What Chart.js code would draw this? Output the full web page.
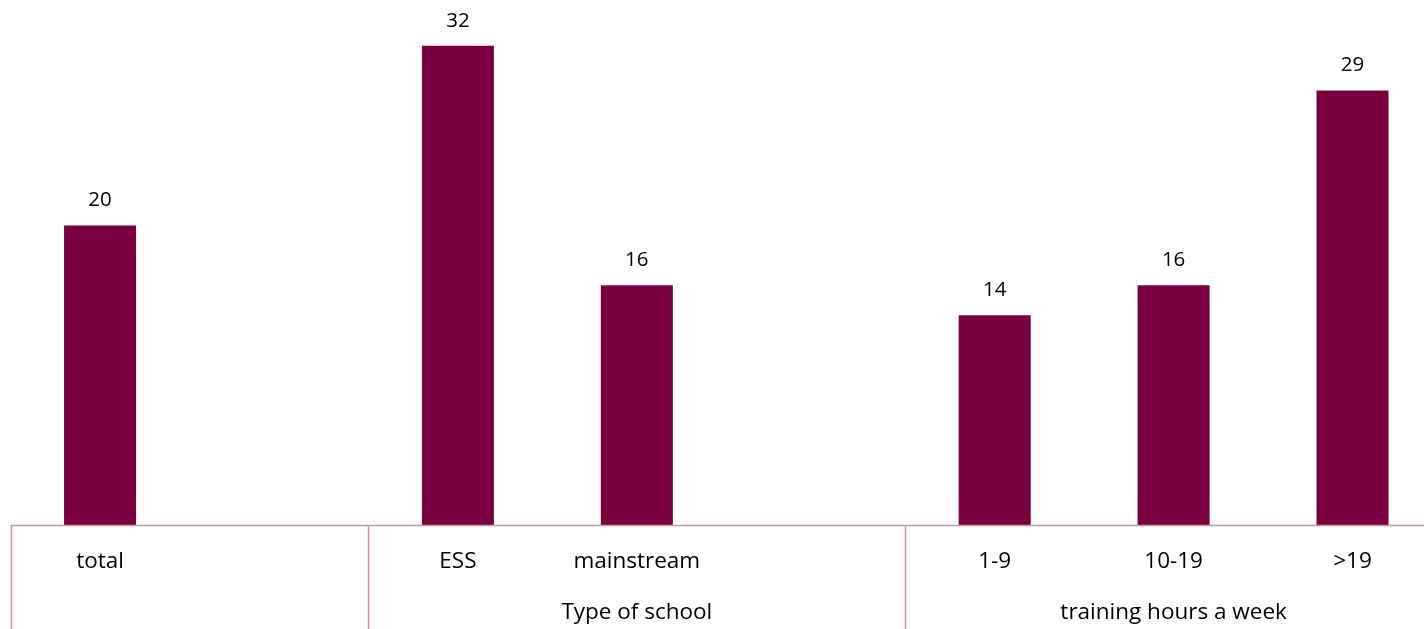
<!DOCTYPE html>
<html>
<head>
<meta charset="utf-8">
<script src="https://cdn.jsdelivr.net/npm/chart.js@4/dist/chart.umd.min.js"></script>
<style>
  html, body { margin: 0; padding: 0; overflow: hidden; background: #fff; }
  #wrap { width: 1442px; height: 629px; }
</style>
</head>
<body>
<div id="wrap"><canvas id="barChart"></canvas></div>
<script>
// Data
const categories = ['total', '', 'ESS', 'mainstream', '', '1-9', '10-19', '>19'];
const values = [20, null, 32, 16, null, 14, 16, 29];
const groups = [
  { label: '', from: 0, to: 1 },
  { label: 'Type of school', from: 2, to: 4 },
  { label: 'training hours a week', from: 5, to: 7 }
];

const barColor = '#7b003f';
const lineColor = '#c297a6';
const fontFamily = "'Open Sans', 'Noto Sans', sans-serif";

// Value labels + category table under the axis
const tablePlugin = {
  id: 'tablePlugin',
  afterDatasetsDraw(chart) {
    const ctx = chart.ctx;
    const area = chart.chartArea;
    const x = chart.scales.x;
    const meta = chart.getDatasetMeta(0);
    const half = (x.getPixelForValue(1) - x.getPixelForValue(0)) / 2;

    ctx.save();
    ctx.fillStyle = '#000';
    ctx.font = '20.5px ' + fontFamily;
    ctx.textAlign = 'center';
    ctx.textBaseline = 'middle';

    meta.data.forEach((bar, i) => {
      if (values[i] == null) return;
      ctx.fillText(values[i], bar.x, bar.y - 25);
    });

    // baseline
    ctx.strokeStyle = lineColor;
    ctx.lineWidth = 1.5;
    ctx.beginPath();
    ctx.moveTo(area.left, area.bottom + 0.5);
    ctx.lineTo(chart.width, area.bottom + 0.5);
    ctx.stroke();

    ctx.font = '22.5px ' + fontFamily;
    // group separators
    groups.forEach(g => {
      const gx = Math.round(x.getPixelForValue(g.from) - half) + 0.5;
      ctx.beginPath();
      ctx.moveTo(gx, area.bottom);
      ctx.lineTo(gx, chart.height);
      ctx.stroke();
      if (g.label) {
        const cx = (x.getPixelForValue(g.from) + x.getPixelForValue(g.to)) / 2;
        ctx.fillText(g.label, cx, area.bottom + 88);
      }
    });

    categories.forEach((c, i) => {
      if (!c) return;
      ctx.fillText(c, x.getPixelForValue(i), area.bottom + 37);
    });
    ctx.restore();
  }
};

new Chart(document.getElementById('barChart'), {
  type: 'bar',
  data: {
    labels: categories,
    datasets: [{
      data: values,
      backgroundColor: barColor,
      categoryPercentage: 1,
      barPercentage: 0.4025
    }]
  },
  options: {
    responsive: true,
    maintainAspectRatio: false,
    animation: false,
    layout: { padding: { left: 10.6, right: 0, top: 0, bottom: 104 } },
    plugins: { legend: { display: false }, tooltip: { enabled: false } },
    scales: {
      x: { display: false },
      y: { display: false, min: 0, max: 35.05 }
    }
  },
  plugins: [tablePlugin]
});
</script>
</body>
</html>
